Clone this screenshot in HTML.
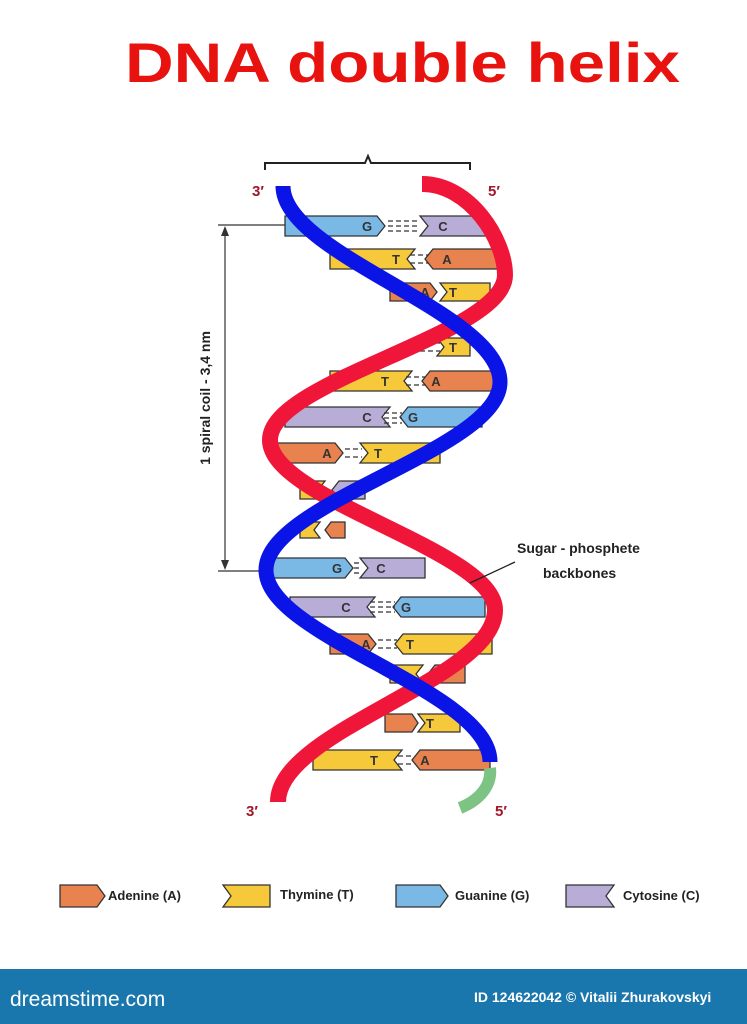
<!DOCTYPE html>
<html><head><meta charset="utf-8"><style>
html,body{margin:0;padding:0;background:#fff;}
svg{display:block;}
text{font-family:"Liberation Sans",sans-serif;}
</style></head><body>
<svg width="747" height="1024" viewBox="0 0 747 1024" xmlns="http://www.w3.org/2000/svg">
<rect width="747" height="1024" fill="#fff"/>
<text x="125" y="82" font-size="56" font-weight="bold" fill="#e8120f" textLength="555" lengthAdjust="spacingAndGlyphs">DNA double helix</text>

<path d="M265,170 L265,163 L365,163 L368,156 L371,163 L470,163 L470,170" fill="none" stroke="#222" stroke-width="2"/>

<g stroke="#333" stroke-width="1.2">
<line x1="218" y1="225" x2="285" y2="225"/>
<line x1="218" y1="571" x2="285" y2="571"/>
<line x1="225" y1="228" x2="225" y2="568"/>
</g>
<polygon points="225,226 221,236 229,236" fill="#333"/>
<polygon points="225,570 221,560 229,560" fill="#333"/>
<text transform="translate(210,398) rotate(-90)" font-size="14" font-weight="bold" fill="#222" text-anchor="middle">1 spiral coil - 3,4 nm</text>

<g stroke="#333" stroke-width="1.3">
<polygon points="285,216 377,216 385,226 377,236 285,236" fill="#7ab8e6"/>
<polygon points="420,216 490,216 490,236 420,236 428,226" fill="#b7add6"/>
<polygon points="330,249 415,249 407,259 415,269 330,269" fill="#f5c93a"/>
<polygon points="425,259 433,249 505,249 505,269 433,269" fill="#e8834f"/>
<polygon points="390,283 430,283 437,292 430,301 390,301" fill="#e8834f"/>
<polygon points="440,283 490,283 490,301 440,301 447,292" fill="#f5c93a"/>
<polygon points="437,338 470,338 470,356 437,356 444,347" fill="#f5c93a"/>
<polygon points="330,371 412,371 404,381 412,391 330,391" fill="#f5c93a"/>
<polygon points="422,381 430,371 497,371 497,391 430,391" fill="#e8834f"/>
<polygon points="285,407 390,407 382,417 390,427 285,427" fill="#b7add6"/>
<polygon points="400,417 408,407 482,407 482,427 408,427" fill="#7ab8e6"/>
<polygon points="272,443 335,443 343,453 335,463 272,463" fill="#e8834f"/>
<polygon points="360,443 440,443 440,463 360,463 368,453" fill="#f5c93a"/>
<polygon points="300,481 325,481 318,490 325,499 300,499" fill="#f5c93a"/>
<polygon points="332,490 339,481 365,481 365,499 339,499" fill="#b7add6"/>
<polygon points="300,522 320,522 314,530 320,538 300,538" fill="#f5c93a"/>
<polygon points="325,530 331,522 345,522 345,538 331,538" fill="#e8834f"/>
<polygon points="270,558 345,558 353,568 345,578 270,578" fill="#7ab8e6"/>
<polygon points="360,558 425,558 425,578 360,578 368,568" fill="#b7add6"/>
<polygon points="290,597 375,597 367,607 375,617 290,617" fill="#b7add6"/>
<polygon points="393,607 401,597 485,597 485,617 401,617" fill="#7ab8e6"/>
<polygon points="330,634 368,634 376,644 368,654 330,654" fill="#e8834f"/>
<polygon points="395,644 403,634 492,634 492,654 403,654" fill="#f5c93a"/>
<polygon points="390,665 423,665 416,674 423,683 390,683" fill="#f5c93a"/>
<polygon points="428,674 435,665 465,665 465,683 435,683" fill="#e8834f"/>
<polygon points="385,714 412,714 418,723 412,732 385,732" fill="#e8834f"/>
<polygon points="418,714 460,714 460,732 418,732 425,723" fill="#f5c93a"/>
<polygon points="313,750 402,750 394,760 402,770 313,770" fill="#f5c93a"/>
<polygon points="412,760 420,750 490,750 490,770 420,770" fill="#e8834f"/>
</g>
<g stroke="#333" stroke-width="1.3" stroke-dasharray="5,3">
<line x1="388" y1="221" x2="420" y2="221"/><line x1="388" y1="226" x2="420" y2="226"/><line x1="388" y1="231" x2="420" y2="231"/>
<line x1="410" y1="255" x2="428" y2="255"/><line x1="410" y1="263" x2="428" y2="263"/>
<line x1="420" y1="343" x2="440" y2="343"/><line x1="420" y1="351" x2="440" y2="351"/>
<line x1="406" y1="377" x2="425" y2="377"/><line x1="406" y1="385" x2="425" y2="385"/>
<line x1="384" y1="413" x2="402" y2="413"/><line x1="384" y1="418" x2="402" y2="418"/><line x1="384" y1="423" x2="402" y2="423"/>
<line x1="345" y1="449" x2="362" y2="449"/><line x1="345" y1="457" x2="362" y2="457"/>
<line x1="354" y1="563" x2="362" y2="563"/><line x1="354" y1="568" x2="362" y2="568"/><line x1="354" y1="573" x2="362" y2="573"/>
<line x1="370" y1="602" x2="395" y2="602"/><line x1="370" y1="607" x2="395" y2="607"/><line x1="370" y1="612" x2="395" y2="612"/>
<line x1="378" y1="640" x2="397" y2="640"/><line x1="378" y1="648" x2="397" y2="648"/>
<line x1="398" y1="756" x2="414" y2="756"/><line x1="398" y1="764" x2="414" y2="764"/>
</g>
<g font-size="13" font-weight="bold" fill="#333" text-anchor="middle">
<text x="367" y="231">G</text><text x="443" y="231">C</text>
<text x="396" y="264">T</text><text x="447" y="264">A</text>
<text x="425" y="297">A</text><text x="453" y="297">T</text>
<text x="453" y="352">T</text>
<text x="385" y="386">T</text><text x="436" y="386">A</text>
<text x="367" y="422">C</text><text x="413" y="422">G</text>
<text x="327" y="458">A</text><text x="378" y="458">T</text>
<text x="337" y="573">G</text><text x="381" y="573">C</text>
<text x="346" y="612">C</text><text x="406" y="612">G</text>
<text x="366" y="649">A</text><text x="410" y="649">T</text>
<text x="439" y="679">A</text>
<text x="430" y="728">T</text>
<text x="374" y="765">T</text><text x="425" y="765">A</text>
</g>

<path d="M490,768 C492,785 480,800 460,808" fill="none" stroke="#7dc383" stroke-width="12"/>
<path d="M422,184 C470,184 505,240 505,275 C505,335 270,380 270,440 C270,500 495,550 495,610 C495,680 278,730 278,802" fill="none" stroke="#f0163a" stroke-width="16"/>
<path d="M283,186 C283,255 500,312 500,382 C500,450 266,502 266,570 C266,637 490,690 490,762" fill="none" stroke="#0a14e6" stroke-width="15"/>

<g font-family="Liberation Serif" font-size="15" font-weight="bold" fill="#a0172a">
<text x="252" y="196">3′</text><text x="488" y="196">5′</text>
<text x="246" y="816">3′</text><text x="495" y="816">5′</text>
</g>
<line x1="515" y1="562" x2="470" y2="583" stroke="#222" stroke-width="1.3"/>
<text x="517" y="553" font-size="14" font-weight="bold" fill="#222">Sugar - phosphete</text>
<text x="543" y="578" font-size="14" font-weight="bold" fill="#222">backbones</text>

<g stroke="#333" stroke-width="1.3">
<polygon points="60,885 97,885 105,896 97,907 60,907" fill="#e8834f"/>
<polygon points="223,885 270,885 270,907 223,907 231,896" fill="#f5c93a"/>
<polygon points="396,885 440,885 448,896 440,907 396,907" fill="#7ab8e6"/>
<polygon points="566,885 614,885 606,896 614,907 566,907" fill="#b7add6"/>
</g>
<g font-size="13" font-weight="bold" fill="#222">
<text x="108" y="900">Adenine (A)</text>
<text x="280" y="899">Thymine (T)</text>
<text x="455" y="900">Guanine (G)</text>
<text x="623" y="900">Cytosine (C)</text>
</g>

<rect x="0" y="969" width="747" height="55" fill="#1a77ad"/>
<text x="10" y="1006" font-size="21" fill="#fff">dreamstime.com</text>
<text x="474" y="1002" font-size="14" font-weight="bold" fill="#fff">ID 124622042 © Vitalii Zhurakovskyi</text>
</svg>
</body></html>
